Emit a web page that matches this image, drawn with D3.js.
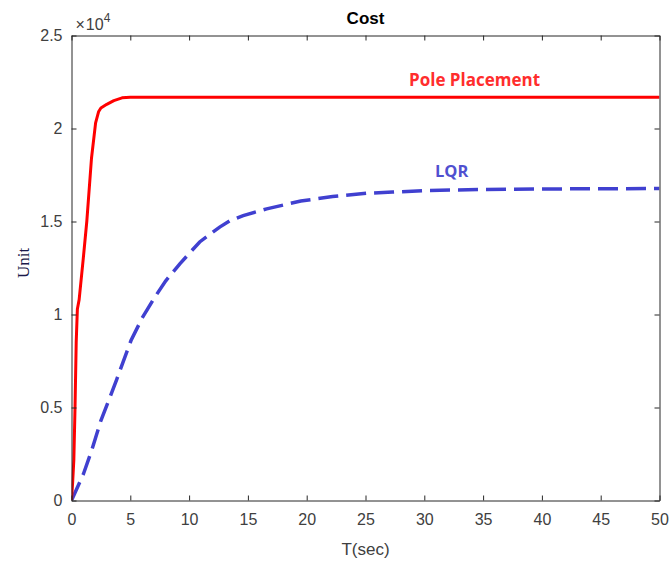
<!DOCTYPE html>
<html>
<head>
<meta charset="utf-8">
<script src="https://cdn.jsdelivr.net/npm/d3@7"></script>
<style>
  html, body { margin: 0; padding: 0; background: #fff; }
  svg { display: block; }
</style>
</head>
<body>
<svg id="chart" width="670" height="564"></svg>
<script>
// Cost over time for the two controllers (values in units of 1e4)
const poleTime  = [0, 0.1, 0.2, 0.3, 0.4, 0.5, 0.65, 1.0, 1.3, 1.7, 2.05, 2.3, 2.5, 3.0, 3.6, 4.3, 5, 50];
const poleCost  = [0, 0.1, 0.22, 0.5, 0.85, 1.03, 1.08, 1.3, 1.5, 1.84, 2.03, 2.09, 2.11, 2.13, 2.15, 2.165, 2.168, 2.168];

const lqrTime   = [0, 1, 1.72, 2.5, 3.27, 3.84, 5.06, 6, 7, 8, 9.23, 10.9, 12.6, 13.5, 14.6, 16.6, 19.5, 22.2, 25.1, 27.3, 30.2, 35, 40, 50];
const lqrCost   = [0, 0.14, 0.27, 0.43, 0.555, 0.65, 0.86, 0.98, 1.085, 1.18, 1.274, 1.39, 1.47, 1.505, 1.532, 1.568, 1.61, 1.634, 1.652, 1.658, 1.667, 1.672, 1.675, 1.677];

const xTicks = [0, 5, 10, 15, 20, 25, 30, 35, 40, 45, 50];
const yTicks = [0, 0.5, 1, 1.5, 2, 2.5];

const svg = d3.select("#chart");
const plotLeft = 71.5, plotRight = 659.5, plotTop = 35.5, plotBottom = 500.5;

const x = d3.scaleLinear().domain([0, 50]).range([plotLeft, plotRight]);
const y = d3.scaleLinear().domain([0, 2.5]).range([plotBottom, plotTop]);

const axisColor = "#262626";
const labelColor = "#404040";
const tickFont = "'Liberation Sans', Arial, sans-serif";

// Curves, clipped to the plot box
svg.append("clipPath").attr("id", "plotClip")
  .append("rect").attr("x", plotLeft).attr("y", plotTop - 2)
  .attr("width", plotRight - plotLeft).attr("height", plotBottom - plotTop + 2);

const line = d3.line().x(d => x(d[0])).y(d => y(d[1]));

svg.append("path")
  .datum(lqrTime.map((t, i) => [t, lqrCost[i]]))
  .attr("clip-path", "url(#plotClip)")
  .attr("d", line)
  .attr("fill", "none")
  .attr("stroke", "#4040d0")
  .attr("stroke-width", 3.5)
  .attr("stroke-dasharray", "20,8");

svg.append("path")
  .datum(poleTime.map((t, i) => [t, poleCost[i]]))
  .attr("clip-path", "url(#plotClip)")
  .attr("d", line)
  .attr("fill", "none")
  .attr("stroke", "#ff0000")
  .attr("stroke-width", 3)
  .attr("stroke-linejoin", "round");

// Box and axes (ticks point inward, mirrored on top/right)
const bottomAxis = d3.axisBottom(x).tickValues(xTicks).tickSizeInner(-5).tickSizeOuter(0).tickPadding(13).tickFormat(d3.format("d"));
const topAxis = d3.axisTop(x).tickValues(xTicks).tickSizeInner(-5).tickSizeOuter(0).tickFormat("");
const leftAxis = d3.axisLeft(y).tickValues(yTicks).tickSizeInner(-5).tickSizeOuter(0).tickPadding(9).tickFormat(d => d);
const rightAxis = d3.axisRight(y).tickValues(yTicks).tickSizeInner(-5).tickSizeOuter(0).tickFormat("");

function styleAxis(g) {
  g.select(".domain").attr("stroke", axisColor).attr("stroke-width", 1);
  g.selectAll(".tick line").attr("stroke", axisColor).attr("stroke-width", 1);
  g.selectAll(".tick text").attr("fill", labelColor).style("font-family", tickFont).style("font-size", "16px");
}

svg.append("g").attr("transform", `translate(0,${plotBottom})`).call(bottomAxis).call(styleAxis);
svg.append("g").attr("transform", `translate(0,${plotTop})`).call(topAxis).call(styleAxis);
svg.append("g").attr("transform", `translate(${plotLeft},0)`).call(leftAxis).call(styleAxis);
svg.append("g").attr("transform", `translate(${plotRight},0)`).call(rightAxis).call(styleAxis);

// Exponent marker
const expo = svg.append("text")
  .attr("x", plotLeft + 4).attr("y", 30)
  .attr("fill", labelColor)
  .style("font-family", tickFont).style("font-size", "16px");
expo.append("tspan").text("\u00d7");
expo.append("tspan").attr("dx", 1).text("10");
expo.append("tspan").attr("dy", -8).style("font-size", "12px").text("4");

// Title and axis labels
svg.append("text")
  .attr("x", (plotLeft + plotRight) / 2).attr("y", 24)
  .attr("text-anchor", "middle")
  .style("font-family", tickFont).style("font-size", "17px").style("font-weight", "bold")
  .attr("fill", "#000")
  .text("Cost");

svg.append("text")
  .attr("x", (plotLeft + plotRight) / 2).attr("y", 555)
  .attr("text-anchor", "middle")
  .style("font-family", tickFont).style("font-size", "17px")
  .attr("fill", labelColor)
  .text("T(sec)");

svg.append("text")
  .attr("transform", "translate(29,263) rotate(-90)")
  .attr("text-anchor", "middle")
  .style("font-family", "'Liberation Serif', 'Times New Roman', serif").style("font-size", "17px")
  .attr("fill", "#1a1a4a")
  .text("Unit");

// Series annotations
svg.append("text")
  .attr("x", 409).attr("y", 86)
  .style("font-family", "'Open Sans', sans-serif").style("font-size", "17px").style("font-weight", "bold")
  .attr("fill", "#ff2d2d")
  .text("Pole Placement");

svg.append("text")
  .attr("x", 435).attr("y", 177)
  .style("font-family", "'Open Sans', sans-serif").style("font-size", "16.5px").style("font-weight", "bold")
  .attr("fill", "#5050d0")
  .text("LQR");
</script>
</body>
</html>
